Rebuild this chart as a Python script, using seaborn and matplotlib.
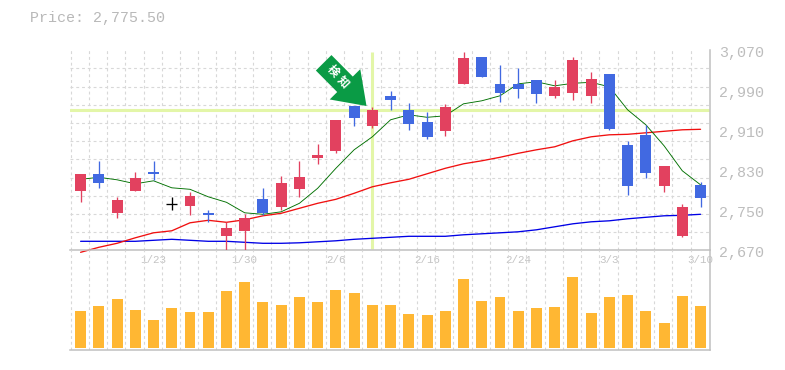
import numpy as np
import pandas as pd
import matplotlib
matplotlib.use("Agg")
import matplotlib.pyplot as plt
from matplotlib.transforms import ScaledTranslation
import seaborn as sns

sns.set_theme(style="white")
plt.rcParams["font.family"] = ["Liberation Mono", "DejaVu Sans"]

opens_top = [2823,2823,2771,2815,2827,2763,2779,2745,2715,2735,2773,2805,2817,2861,2931,2959,2951,2979,2951,2927,2957,3055,3057,3003,3003,3011,2997,3051,3013,3023,2881,2901,2839,2757,2801]
body_bot = [2789,2805,2745,2789,2823,2763,2759,2741,2699,2709,2745,2757,2793,2855,2869,2935,2919,2971,2923,2897,2909,3003,3017,2985,2993,2983,2979,2985,2979,2913,2799,2825,2799,2699,2775]
highs = [2823,2849,2777,2827,2849,2777,2787,2751,2727,2743,2795,2819,2849,2883,2931,2959,2957,2989,2965,2947,2963,3067,3057,3041,3035,3011,3011,3057,3027,3023,2889,2921,2839,2763,2807]
lows = [2767,2795,2735,2789,2811,2751,2741,2727,2669,2671,2741,2751,2777,2843,2865,2919,2915,2951,2911,2893,2899,3003,3017,2967,2975,2965,2975,2971,2965,2911,2781,2815,2787,2697,2757]
kinds = list("rbrrbkrbrrbrrrrbrbbbrrbbbbrrrbbbrrb")
ma_short = [2812,2816,2811,2803,2809,2795,2792,2777,2766,2745,2742,2747,2764,2794,2834,2871,2897,2931,2941,2936,2939,2963,2969,2979,3003,3007,2999,3004,3006,2997,2951,2921,2879,2829,2801]
ma_mid = [2666,2676,2684,2695,2705,2709,2725,2730,2726,2731,2739,2744,2754,2764,2772,2784,2797,2805,2812,2823,2834,2843,2849,2856,2864,2871,2877,2889,2897,2901,2902,2905,2908,2911,2912]
ma_long = [2688,2688,2688,2688,2690,2692,2690,2688,2688,2686,2684,2684,2685,2687,2689,2692,2694,2696,2698,2698,2698,2701,2703,2705,2707,2711,2717,2723,2727,2729,2733,2736,2739,2740,2742]
volume = [37,42,49,38,28,40,36,36,57,66,46,43,51,46,58,55,43,43,34,33,37,69,47,51,37,40,41,71,35,51,53,37,25,52,42]
date_pos = [4,9,14,19,24,29,34]
date_labels = ["1/23","1/30","2/6","2/16","2/24","3/3","3/10"]
price_ticks = [3070,2990,2910,2830,2750,2670]
price_labels = ["3,070","2,990","2,910","2,830","2,750","2,670"]
title = "Price: 2,775.50"
signal_index = 16
signal_price = 2950
arrow_chars = ["検", "知"]
arrow_char_x = [13.85, 14.4]
arrow_char_y = [3029, 3007]

RED, BLUE, BLACK = "#e2415f", "#4169e1", "#000000"
GRAY = "#c0c0c0"
GRID = "#d8d8d8"
HILITE = "#e3f6a8"
COL = {"r": RED, "b": BLUE, "k": BLACK}
W, H = 785, 370
days = np.arange(len(volume))

fig = plt.figure(figsize=(W / 100, H / 100), dpi=100, facecolor="white")
L, R, T, M, B = 70.3, 710.3, 50.3, 250.3, 350.3
ax = fig.add_axes([L / W, 1 - M / H, (R - L) / W, (M - T) / H])
ax2 = fig.add_axes([L / W, 1 - B / H, (R - L) / W, (B - M) / H])
ax2.patch.set_alpha(0)
xlim = (-0.565, 34.535)
grid_x = np.append(days - 0.55, 34.535)

df = pd.DataFrame({"day": days, "short": ma_short, "mid": ma_mid, "long": ma_long, "vol": volume})

# highlights
ax.axhline(signal_price, color=HILITE, lw=2.2, zorder=1.5)
ax.plot([signal_index, signal_index], [2672, 3067], color=HILITE, lw=2.2, zorder=1.5, solid_capstyle="butt")

# moving averages
sns.lineplot(data=df, x="day", y="long", ax=ax, color="#0000e6", lw=0.95, zorder=2.2, clip_on=False)
sns.lineplot(data=df, x="day", y="mid", ax=ax, color="#f01010", lw=0.95, zorder=2.2, clip_on=False)
sns.lineplot(data=df, x="day", y="short", ax=ax, color="#007000", lw=0.65, zorder=2.2)

# candles
for i, k in enumerate(kinds):
    c = COL[k]
    ax.vlines(i, lows[i], highs[i], color=c, lw=0.95, zorder=3)
    if k == "k":
        ax.hlines(opens_top[i], i - 0.3, i + 0.3, color=c, lw=0.95, zorder=3)
    else:
        ax.bar(i, opens_top[i] - body_bot[i], bottom=body_bot[i], width=0.6, color=c, lw=0, zorder=3)

# volume
sns.barplot(data=df, x="day", y="vol", ax=ax2, native_scale=True, color="#ffb733", saturation=1, width=0.6, zorder=3, lw=0)

for a in (ax, ax2):
    a.set_xlim(*xlim)
    a.set_xlabel("")
    a.set_ylabel("")
    a.set_xticks(grid_x, minor=True)
    a.grid(True, axis="x", which="minor", color=GRID, lw=0.8, ls=(0, (2.6, 2.6)), zorder=0)
    a.set_axisbelow(True)
    for s in ("top", "left"):
        a.spines[s].set_visible(False)
    for s in ("bottom", "right"):
        a.spines[s].set_color(GRAY)
        a.spines[s].set_linewidth(1.1)
    a.tick_params(axis="both", which="both", length=0)

ax.set_ylim(2670, 3070)
ax.set_yticks(np.linspace(2670, 3070, 12), minor=True)
ax.grid(True, axis="y", which="minor", color=GRID, lw=0.8, ls=(0, (2.6, 2.6)), zorder=0)
ax.yaxis.tick_right()
ax.set_yticks(price_ticks, price_labels)
ax.tick_params(axis="y", which="major", labelsize=10.8, labelcolor="#bdbdbd", pad=6.6)
shift = ScaledTranslation(0, -1.0 / 72, fig.dpi_scale_trans)
for lab in ax.get_yticklabels():
    lab.set_transform(lab.get_transform() + shift)
ax.set_xticks(date_pos, date_labels)
ax.tick_params(axis="x", which="major", labelsize=7.8, labelcolor="#c4c4c4", pad=3.6)

ax2.set_ylim(-2.3, 97.7)
ax2.set_yticks([])
ax2.set_xticks([])

# arrow marker
ax.annotate("", xy=(15.68, 2958.6), xytext=(13.33, 3045), zorder=4,
            arrowprops=dict(arrowstyle="simple,head_length=22,head_width=31,tail_width=15.8",
                            mutation_scale=1, color="#0a9b45", lw=0, shrinkA=0, shrinkB=0))
for ch, cx, cy in zip(arrow_chars, arrow_char_x, arrow_char_y):
    ax.text(cx, cy, ch, rotation=-47, rotation_mode="anchor", ha="center", va="center",
            color="white", fontsize=8.2, fontweight="bold", family=["Noto Sans CJK JP", "DejaVu Sans"], zorder=5)

fig.text(30 / W, 1 - 18 / H, title, color="#b8b8b8", fontsize=10.8, ha="left", va="center")
fig.savefig("out.png", dpi=100)
